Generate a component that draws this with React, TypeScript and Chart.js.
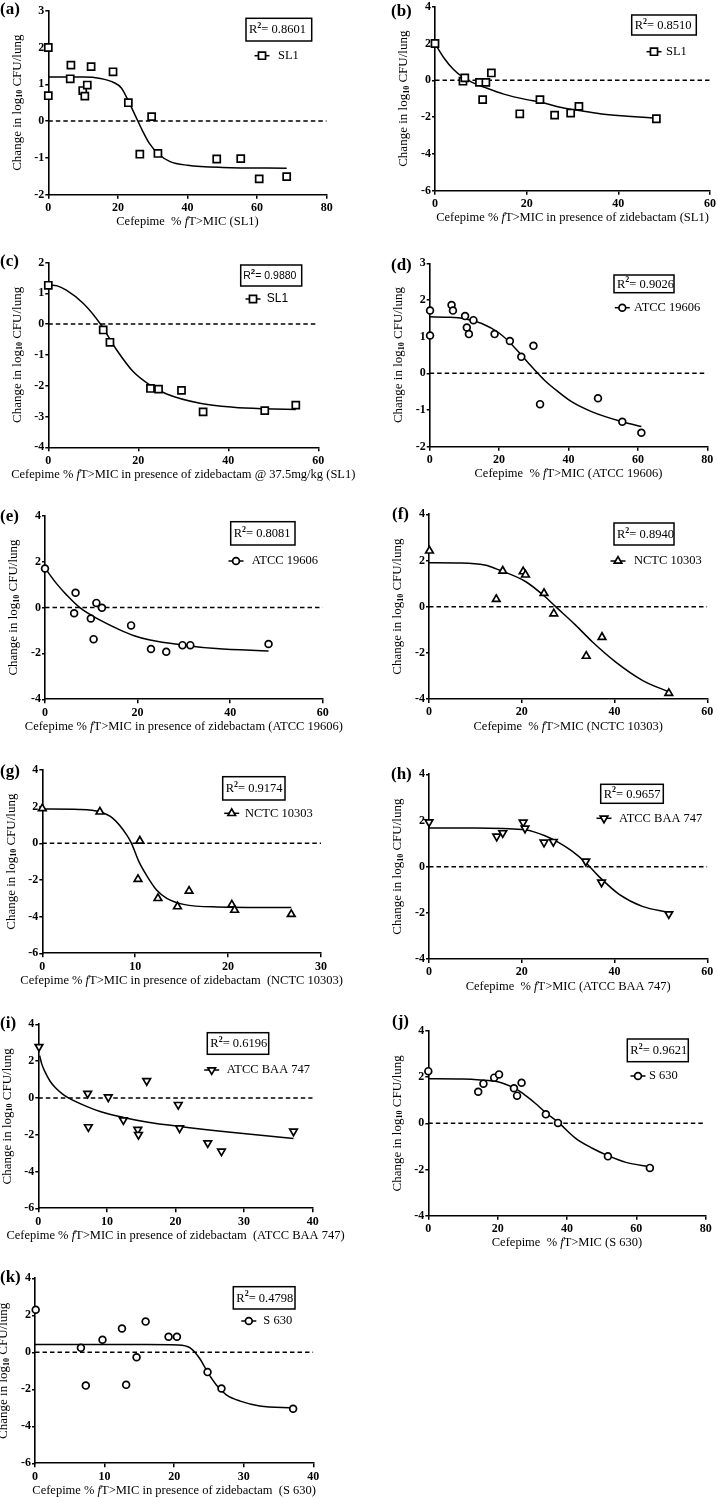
import React, { useEffect, useRef } from 'react';
import { Chart, registerables } from 'chart.js';
Chart.register(...registerables);

// ---------- data ----------
// (a) SL1, cefepime alone
const aX = [0, 0, 6.3, 6.5, 9.9, 10.5, 11.2, 12.3, 18.6, 23, 26.3, 29.7, 31.5, 48.4, 55.3, 60.6, 68.5];
const aY = [2.0, 0.69, 1.15, 1.52, 0.83, 0.68, 0.98, 1.48, 1.34, 0.5, -0.9, 0.12, -0.88, -1.03, -1.02, -1.57, -1.51];
const aFitX = [0, 10, 15, 18.8, 21, 23, 25, 27, 29, 31.5, 35, 40, 50, 68.5];
const aFitY = [1.2, 1.2, 1.16, 1.05, 0.9, 0.55, 0.15, -0.25, -0.6, -0.88, -1.1, -1.2, -1.26, -1.28];
// (b) SL1 + zidebactam
const bX = [0, 6.1, 6.5, 9.7, 10.4, 11.1, 12.3, 18.5, 22.9, 26.1, 29.6, 31.4, 48.3];
const bY = [2.0, -0.05, 0.13, -0.11, -1.05, -0.11, 0.4, -1.82, -1.05, -1.89, -1.78, -1.42, -2.09];
const bFitX = [0, 2, 4, 6, 8, 11, 15, 20, 23, 27, 31.4, 36, 42, 48.3];
const bFitY = [2.0, 1.2, 0.6, 0.18, -0.1, -0.4, -0.75, -1.05, -1.18, -1.45, -1.64, -1.82, -1.95, -2.06];
// (c) SL1 + zidebactam 37.5 mg/kg
const cX = [0, 12.2, 13.7, 22.7, 24.5, 29.6, 34.4, 48.1, 55];
const cY = [1.26, -0.19, -0.59, -2.09, -2.11, -2.15, -2.85, -2.81, -2.63];
const cFitX = [0, 2, 4, 7.8, 11.5, 15.2, 18.9, 22.6, 26.3, 33.7, 41.1, 48, 55];
const cFitY = [1.28, 1.24, 1.1, 0.67, 0.02, -0.84, -1.55, -1.98, -2.27, -2.57, -2.7, -2.75, -2.77];
// (d) ATCC 19606
const dX = [0.1, 0.1, 6.3, 6.7, 10.2, 10.7, 11.3, 12.6, 18.7, 23.1, 26.4, 29.9, 31.8, 48.5, 55.5, 61];
const dY = [1.71, 1.03, 1.86, 1.71, 1.56, 1.25, 1.07, 1.45, 1.07, 0.88, 0.45, 0.75, -0.84, -0.68, -1.32, -1.62];
const dFitX = [0, 5, 10, 15, 20, 23, 26.4, 30, 33, 37, 41, 46.8, 55.5, 61];
const dFitY = [1.54, 1.53, 1.49, 1.36, 1.1, 0.85, 0.5, 0.12, -0.18, -0.5, -0.78, -1.05, -1.32, -1.45];
// (e) ATCC 19606 + zidebactam
const eX = [0, 6.3, 6.6, 9.9, 10.5, 11.1, 12.3, 18.6, 22.9, 26.2, 29.7, 31.4, 48.3];
const eY = [1.7, -0.25, 0.64, -0.48, -1.38, 0.2, -0.01, -0.78, -1.81, -1.93, -1.64, -1.64, -1.59];
const eFitX = [0, 2.5, 4.7, 7.6, 11.9, 15.5, 19.1, 22.7, 29.9, 37, 48.3];
const eFitY = [1.72, 1.04, 0.54, -0.02, -0.55, -0.91, -1.22, -1.42, -1.64, -1.79, -1.9];
// (f) NCTC 10303
const fX = [0.1, 14.5, 15.9, 20.3, 20.8, 24.8, 26.9, 33.9, 37.3, 51.7];
const fY = [2.42, 0.32, 1.55, 1.52, 1.38, 0.58, -0.3, -2.14, -1.32, -3.75];
const fFitX = [0, 7, 12, 15.1, 20.8, 24.8, 27.3, 31.6, 35.2, 40.2, 46, 51.8];
const fFitY = [1.9, 1.89, 1.8, 1.59, 1.09, 0.47, 0, -0.8, -1.52, -2.39, -3.19, -3.7];
// (g) NCTC 10303 + zidebactam
const gX = [0, 6.2, 10.3, 10.5, 12.45, 14.55, 15.8, 20.4, 20.7, 26.8];
const gY = [1.9, 1.72, -1.96, 0.13, -3.0, -3.45, -2.6, -3.35, -3.64, -3.87];
const gFitX = [0, 4, 6.2, 7.6, 9.1, 9.6, 10.4, 11.2, 12.3, 13.4, 15.2, 18.8, 26.8];
const gFitY = [1.87, 1.85, 1.72, 1.36, 0.45, 0, -1.0, -1.73, -2.55, -3.0, -3.33, -3.47, -3.5];
// (h) ATCC BAA 747
const hX = [0, 14.6, 15.9, 20.3, 20.7, 24.8, 26.8, 33.8, 37.2, 51.7];
const hY = [1.93, 1.31, 1.46, 1.92, 1.66, 1.05, 1.08, 0.23, -0.68, -2.05];
const hFitX = [0, 10, 16, 20.7, 25, 27.9, 30.7, 33.8, 36.6, 41, 46, 51.8];
const hFitY = [1.67, 1.67, 1.65, 1.6, 1.34, 1.05, 0.69, 0.17, -0.42, -1.2, -1.72, -1.98];
// (i) ATCC BAA 747 + zidebactam
const iX = [0.1, 7.2, 7.3, 10.2, 12.4, 14.5, 14.6, 15.8, 20.4, 20.6, 24.7, 26.7, 37.2];
const iY = [2.78, 0.24, -1.58, 0.04, -1.2, -1.72, -2.0, 0.93, -0.37, -1.64, -2.45, -2.9, -1.82];
const iFitX = [0.2, 0.5, 1, 1.7, 2.5, 3.5, 4.4, 7.2, 9, 12.4, 16, 20.6, 28.4, 37.2];
const iFitY = [2.3, 1.85, 1.4, 0.92, 0.55, 0.22, 0, -0.49, -0.74, -1.06, -1.32, -1.55, -1.88, -2.2];
// (j) S 630
const jX = [0, 14.4, 15.9, 19.0, 20.4, 24.7, 25.6, 26.9, 33.9, 37.4, 51.8, 63.9];
const jY = [2.26, 1.37, 1.72, 1.98, 2.12, 1.52, 1.2, 1.76, 0.39, 0.02, -1.43, -1.93];
const jFitX = [0, 10, 15, 20, 23, 25.2, 28.1, 31, 34, 37.4, 42.5, 47.3, 51.8, 57, 63.9];
const jFitY = [1.93, 1.92, 1.88, 1.8, 1.65, 1.5, 1.2, 0.85, 0.45, 0.05, -0.65, -1.08, -1.4, -1.69, -1.88];
// (k) S 630 + zidebactam
const kX = [0.1, 6.6, 7.3, 9.7, 12.5, 13.1, 14.6, 15.9, 19.2, 20.4, 24.8, 26.8, 37.1];
const kY = [2.3, 0.24, -1.8, 0.68, 1.29, -1.76, -0.27, 1.66, 0.84, 0.84, -1.07, -1.96, -3.05];
const kFitX = [0, 10, 16, 20.5, 22.3, 23.7, 24.8, 26.1, 27.5, 29.5, 32.3, 37.2];
const kFitY = [0.42, 0.42, 0.42, 0.4, 0.24, -0.35, -1.07, -1.78, -2.3, -2.64, -2.9, -3.0];

const panelLetters = ['(a)', '(b)', '(c)', '(d)', '(e)', '(f)', '(g)', '(h)', '(i)', '(j)', '(k)'];
const r2Values = ['0.8601', '0.8510', '0.9880', '0.9026', '0.8081', '0.8940', '0.9174', '0.9657', '0.6196', '0.9621', '0.4798'];
const seriesNames = ['SL1', 'SL1', 'SL1', 'ATCC 19606', 'ATCC 19606', 'NCTC 10303', 'NCTC 10303', 'ATCC BAA 747', 'ATCC BAA 747', 'S 630', 'S 630'];
const xTitles = [
  'Cefepime  % {f}T>MIC (SL1)',
  'Cefepime % {f}T>MIC in presence of zidebactam (SL1)',
  'Cefepime % {f}T>MIC in presence of zidebactam @ 37.5mg/kg (SL1)',
  'Cefepime  % {f}T>MIC (ATCC 19606)',
  'Cefepime % {f}T>MIC in presence of zidebactam (ATCC 19606)',
  'Cefepime  % {f}T>MIC (NCTC 10303)',
  'Cefepime % {f}T>MIC in presence of zidebactam  (NCTC 10303)',
  'Cefepime  % {f}T>MIC (ATCC BAA 747)',
  'Cefepime % {f}T>MIC in presence of zidebactam  (ATCC BAA 747)',
  'Cefepime  % {f}T>MIC (S 630)',
  'Cefepime % {f}T>MIC in presence of zidebactam  (S 630)',
];
const yTitleParts = ['Change in log', '10', ' CFU/lung'];
const xRanges = [[0, 80, 20], [0, 60, 20], [0, 60, 20], [0, 80, 20], [0, 60, 20], [0, 60, 20], [0, 30, 10], [0, 60, 20], [0, 40, 10], [0, 80, 20], [0, 40, 10]];
const yRanges = [[-2, 3, 1], [-6, 4, 2], [-4, 2, 1], [-2, 3, 1], [-4, 4, 2], [-4, 4, 2], [-6, 4, 2], [-4, 4, 2], [-6, 4, 2], [-4, 4, 2], [-6, 4, 2]];

// ---------- layout / style ----------
const SERIF = '"Liberation Serif", "Times New Roman", Times, serif';
const SANS = '"Liberation Sans", Arial, Helvetica, sans-serif';

type Marker = 'rect' | 'circle' | 'triangle' | 'down';
type Layout = {
  col: number; plot: number[]; label: number[]; box: number[]; leg: number[]; marker: Marker; sans?: boolean;
};
const layouts: Layout[] = [
  { col: 0, plot: [48.3, 10.7, 326.7, 194.7], label: [0, 10], box: [246, 18.3, 311.7, 41], leg: [262, 55.7, 278], marker: 'rect' },
  { col: 1, plot: [435, 6.7, 712.3, 190.7], label: [391, 12], box: [631.7, 15, 696.3, 35], leg: [654, 51.7, 666], marker: 'rect' },
  { col: 0, plot: [48.3, 262.5, 318.3, 447.3], label: [0, 261.7], box: [240.7, 265, 301.7, 286], leg: [253, 299, 266.7], marker: 'rect', sans: true },
  { col: 1, plot: [429.7, 263.3, 707.3, 446.7], label: [391, 266], box: [614, 275, 674, 292.7], leg: [622.3, 307.7, 634], marker: 'circle' },
  { col: 0, plot: [45, 515.7, 322.7, 699.3], label: [0, 516.7], box: [230.7, 521.7, 295, 545], leg: [236, 561, 251.7], marker: 'circle' },
  { col: 1, plot: [429, 514.3, 707.3, 699], label: [392, 515], box: [614, 523, 674, 545], leg: [618, 561, 634], marker: 'triangle' },
  { col: 0, plot: [42.3, 770, 321, 953.3], label: [0, 771.7], box: [222.7, 776.7, 285, 800], leg: [231.7, 813.3, 245], marker: 'triangle' },
  { col: 1, plot: [429, 774.3, 707.3, 959], label: [391, 775], box: [600.7, 784.3, 663.3, 803.3], leg: [604, 818.3, 619], marker: 'down' },
  { col: 0, plot: [38.3, 1024.3, 312.7, 1208.3], label: [0, 1023.3], box: [207.3, 1032.7, 268.7, 1054.3], leg: [211.7, 1070, 226.7], marker: 'down' },
  { col: 1, plot: [428.3, 1031, 705.7, 1215.7], label: [392, 1021.7], box: [627.3, 1039, 688.3, 1061.7], leg: [638, 1076, 649], marker: 'circle' },
  { col: 0, plot: [35, 1278.3, 313.3, 1463.3], label: [0, 1277.7], box: [233.3, 1286.7, 295, 1309], leg: [248.8, 1321, 263.3], marker: 'circle' },
];

const seriesX = [aX, bX, cX, dX, eX, fX, gX, hX, iX, jX, kX];
const seriesY = [aY, bY, cY, dY, eY, fY, gY, hY, iY, jY, kY];
const fitXs = [aFitX, bFitX, cFitX, dFitX, eFitX, fFitX, gFitX, hFitX, iFitX, jFitX, kFitX];
const fitYs = [aFitY, bFitY, cFitY, dFitY, eFitY, fFitY, gFitY, hFitY, iFitY, jFitY, kFitY];

const markerRadius: Record<Marker, number> = { rect: 5, circle: 3.4, triangle: 4.4, down: 4.4 };
const COL_W = 359;

type Seg = { t: string; f: string; dy?: number };
function drawRich(ctx: CanvasRenderingContext2D, segs: Seg[], x: number, y: number, align: 'left' | 'center') {
  let w = 0;
  for (const s of segs) { ctx.font = s.f; w += ctx.measureText(s.t).width; }
  let cx = align === 'center' ? x - w / 2 : x;
  ctx.textAlign = 'left';
  ctx.textBaseline = 'middle';
  for (const s of segs) {
    ctx.font = s.f;
    ctx.fillText(s.t, cx, y + (s.dy || 0));
    cx += ctx.measureText(s.t).width;
  }
}

function drawMarker(ctx: CanvasRenderingContext2D, style: Marker, x: number, y: number, r: number) {
  ctx.beginPath();
  if (style === 'circle') ctx.arc(x, y, r, 0, Math.PI * 2);
  else if (style === 'rect') { const s = r * Math.SQRT1_2; ctx.rect(x - s, y - s, 2 * s, 2 * s); }
  else {
    const dir = style === 'down' ? -1 : 1;
    for (let k = 0; k < 3; k++) {
      const a = (k * 2 * Math.PI) / 3;
      const px = x + Math.sin(a) * r * dir;
      const py = y - Math.cos(a) * r * dir;
      if (k === 0) ctx.moveTo(px, py); else ctx.lineTo(px, py);
    }
    ctx.closePath();
  }
  ctx.fillStyle = '#fff';
  ctx.fill();
  ctx.lineWidth = 1.7;
  ctx.strokeStyle = '#000';
  ctx.stroke();
}

function Panel({ idx }: { idx: number }) {
  const ref = useRef<HTMLCanvasElement>(null);
  const L = layouts[idx];
  const colX = L.col * COL_W;
  const [pl, pt, pr, pb] = L.plot;
  const cTop = Math.floor(pt) - 16;
  const cH = Math.ceil(pb) + 50 - cTop;

  useEffect(() => {
    const canvas = ref.current;
    if (!canvas) return;
    const [xMin, xMax, xStep] = xRanges[idx];
    const [yMin, yMax, yStep] = yRanges[idx];
    const padTop = pt - cTop;
    const padRight = colX + COL_W - pr;
    const yW = pl - colX;
    const xH = cH - (pb - cTop);
    const pts = seriesX[idx].map((x, i) => ({ x, y: seriesY[idx][i] }));
    const fit = fitXs[idx].map((x, i) => ({ x, y: fitYs[idx][i] }));
    const zero = [{ x: xMin, y: 0 }, { x: xMax, y: 0 }];
    const mk = L.marker;
    const tickFont = { family: SERIF, size: 12, weight: 'bold' as const };

    const annot = {
      id: 'annot' + idx,
      afterDraw(chart: any) {
        const ctx: CanvasRenderingContext2D = chart.ctx;
        const ca = chart.chartArea;
        ctx.save();
        ctx.fillStyle = '#000';
        // x title
        const [pre, post] = xTitles[idx].split('{f}');
        drawRich(ctx, [
          { t: pre, f: `12.5px ${SERIF}` },
          { t: 'f', f: `italic 12.5px ${SERIF}` },
          { t: post, f: `12.5px ${SERIF}` },
        ], (ca.left + ca.right) / 2, ca.bottom + 27.5, 'center');
        // y title
        ctx.save();
        ctx.translate(ca.left - 31, (ca.top + ca.bottom) / 2);
        ctx.rotate(-Math.PI / 2);
        drawRich(ctx, [
          { t: yTitleParts[0], f: `13px ${SERIF}` },
          { t: yTitleParts[1], f: `bold 8px ${SERIF}`, dy: 3 },
          { t: yTitleParts[2], f: `13px ${SERIF}` },
        ], 0, 0, 'center');
        ctx.restore();
        // panel letter
        drawRich(ctx, [{ t: panelLetters[idx], f: `bold 17px ${SERIF}` }], L.label[0] - colX, L.label[1] - cTop, 'left');
        // R2 box
        const [bx1, by1, bx2, by2] = L.box;
        ctx.lineWidth = 1.5;
        ctx.strokeStyle = '#000';
        ctx.strokeRect(bx1 - colX, by1 - cTop, bx2 - bx1, by2 - by1);
        const fam = L.sans ? SANS : SERIF;
        const fs = L.sans ? 10.5 : 12.5;
        drawRich(ctx, [
          { t: 'R', f: `${fs}px ${fam}` },
          { t: '2', f: `bold 8px ${fam}`, dy: -4 },
          { t: '= ' + r2Values[idx], f: `${fs}px ${fam}` },
        ], bx1 - colX + (L.sans ? 2.5 : 3), (by1 + by2) / 2 - cTop + 0.5, 'left');
        // legend
        const [mx, my, tx] = L.leg;
        ctx.beginPath();
        ctx.lineWidth = 1.5;
        ctx.moveTo(mx - colX - 7.5, my - cTop);
        ctx.lineTo(mx - colX + 7.5, my - cTop);
        ctx.stroke();
        drawMarker(ctx, mk, mx - colX, my - cTop, markerRadius[mk]);
        ctx.fillStyle = '#000';
        drawRich(ctx, [{ t: seriesNames[idx], f: `${L.sans ? 12 : 12.5}px ${fam}` }], tx - colX, my - cTop, 'left');
        ctx.restore();
      },
    };

    const chart = new Chart(canvas, {
      type: 'scatter',
      data: {
        datasets: [
          {
            data: pts,
            pointStyle: mk === 'circle' ? 'circle' : mk === 'rect' ? 'rect' : 'triangle',
            rotation: mk === 'down' ? 180 : 0,
            pointRadius: markerRadius[mk],
            pointBorderWidth: 1.7,
            pointBackgroundColor: '#fff',
            pointBorderColor: '#000',
            showLine: false,
            clip: false,
          } as any,
          {
            type: 'line',
            data: fit,
            borderColor: '#000',
            borderWidth: 1.5,
            pointRadius: 0,
            cubicInterpolationMode: 'monotone',
            fill: false,
            clip: false,
          } as any,
          {
            type: 'line',
            data: zero,
            borderColor: '#000',
            borderWidth: 1.5,
            borderDash: [4.5, 3],
            pointRadius: 0,
            fill: false,
          } as any,
        ],
      },
      options: {
        responsive: false,
        animation: false,
        devicePixelRatio: 1,
        events: [],
        layout: { padding: { top: padTop, right: padRight, left: 0, bottom: 0 } },
        plugins: { legend: { display: false }, tooltip: { enabled: false } },
        scales: {
          x: {
            type: 'linear',
            min: xMin,
            max: xMax,
            ticks: { stepSize: xStep, font: tickFont, color: '#000', padding: 2, maxRotation: 0, autoSkip: false },
            grid: { display: true, drawOnChartArea: false, drawTicks: true, tickLength: 4, tickColor: '#000', tickWidth: 1.5, color: '#000', lineWidth: 1.5 },
            border: { display: true, color: '#000', width: 1.6 },
            afterFit: (s: any) => { s.height = xH; },
          },
          y: {
            type: 'linear',
            position: 'left',
            min: yMin,
            max: yMax,
            ticks: { stepSize: yStep, font: tickFont, color: '#000', padding: 1, autoSkip: false },
            grid: { display: true, drawOnChartArea: false, drawTicks: true, tickLength: 3, tickColor: '#000', tickWidth: 1.5, color: '#000', lineWidth: 1.5 },
            border: { display: true, color: '#000', width: 1.6 },
            afterFit: (s: any) => { s.width = yW; },
          },
        },
      } as any,
      plugins: [annot],
    });
    return () => chart.destroy();
  }, []);

  return (
    <canvas
      ref={ref}
      width={COL_W}
      height={cH}
      style={{ position: 'absolute', left: colX, top: cTop, width: COL_W, height: cH }}
    />
  );
}

export default function App() {
  return (
    <div style={{ position: 'absolute', left: 0, top: 0, width: 718, height: 1498, overflow: 'hidden', background: '#fff' }}>
      {layouts.map((_, i) => <Panel key={i} idx={i} />)}
    </div>
  );
}
